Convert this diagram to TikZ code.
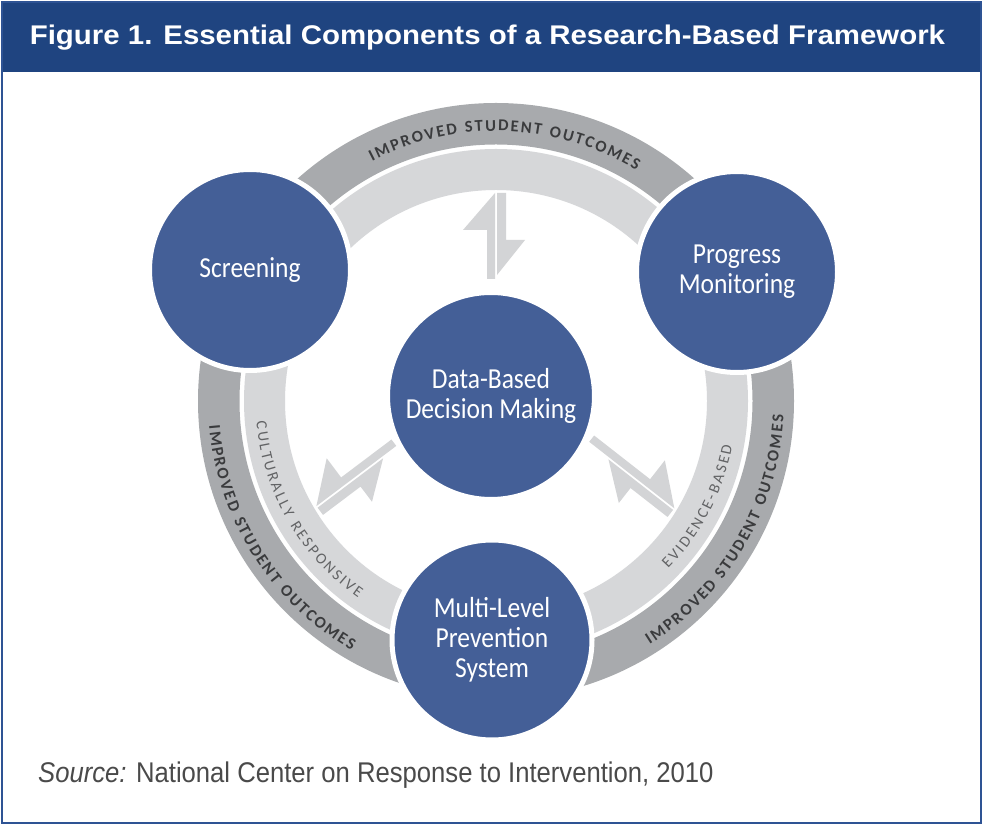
\documentclass[tikz,border=0pt]{standalone}
\usepackage{fontspec}
\newfontfamily\circfam[FakeStretch=0.88]{Carlito}
\newfontfamily\titlefam[FakeStretch=1.09]{Liberation Sans}
\newfontfamily\srcfam[FakeStretch=0.9]{Liberation Sans}
\font\outerRaw="Carlito/B" at 16.5pt
\font\innerRaw="Carlito" at 15.5pt
\definecolor{hdr}{HTML}{1F4480}
\definecolor{framec}{HTML}{2E5394}
\definecolor{circ}{HTML}{445F97}
\definecolor{band}{HTML}{A8AAAD}
\definecolor{lband}{HTML}{D6D7D9}
\definecolor{arr}{HTML}{D3D4D6}
\definecolor{otext}{HTML}{3A3B3D}
\definecolor{ltext}{HTML}{626365}
\definecolor{srcc}{HTML}{4A4A4A}
\newbox\atBox
% #1 baseline radius, #2 mid angle, #3 dir (1 ccw / -1 cw), #4 tracking, #5 font, #6 colour, #7 chars
\newcommand\ArcText[7]{%
  \xdef\atTotal{0}%
  \foreach \atC in {#7}{%
    \setbox\atBox=\hbox{#5\atC}%
    \pgfmathsetmacro\atTmp{\atTotal+\the\wd\atBox+#4}%
    \xdef\atTotal{\atTmp}%
  }%
  \pgfmathsetmacro\atTmp{\atTotal-#4}%
  \xdef\atTotal{\atTmp}%
  \xdef\atPos{0}%
  \foreach \atC in {#7}{%
    \setbox\atBox=\hbox{#5\atC}%
    \pgfmathsetmacro\atS{\atPos+0.5*\the\wd\atBox}%
    \pgfmathsetmacro\atAng{#2+(#3)*(\atS-0.5*\atTotal)/(#1)*57.29578}%
    \pgfmathsetmacro\atRot{\atAng+(#3)*90}%
    \path (RC) ++(\atAng:#1) node[anchor=base,inner sep=0pt,outer sep=0pt,rotate=\atRot,text=#6,font=#5] {\atC};
    \pgfmathsetmacro\atTmp{\atPos+\the\wd\atBox+#4}%
    \xdef\atPos{\atTmp}%
  }%
}
\newcommand\DArrow[1]{%
  \fill[arr] (0,1) -- (-37,33) -- (-37,9) -- (-#1,9) -- (-#1,1) -- cycle;
  \fill[arr] (0,-1) -- (0,-10) -- (-47,-10) -- (-47,-29) -- (-82,-1) -- cycle;
}
\tikzset{comp/.style={circle, fill=circ, draw=white, line width=5pt, text=white, align=center,
  font=\circfam\fontsize{29}{30}\selectfont, inner sep=0pt}}
\begin{document}
\begin{tikzpicture}[x=1pt,y=1pt]
\useasboundingbox (0,0) rectangle (983,825);
\fill[white] (0,0) rectangle (983,825);
\fill[hdr] (2,753) rectangle (981,823);
\draw[framec, line width=1.6pt] (2,2) rectangle (981,823);
\node[anchor=base, text=white, font=\titlefam\bfseries\fontsize{27}{27}\selectfont, inner sep=0pt] (title) at (487.5,780) {Figure 1. Essential Components of a Research-Based Framework};
\coordinate (RC) at (496,424);
\draw[band, line width=41.5pt] (RC) circle[radius=277.25];
\draw[lband, line width=41pt] (RC) circle[radius=231.5];
\begin{scope}[shift={(496,632)}, rotate=90] \DArrow{86} \end{scope}
\begin{scope}[shift={(317,318.1)}, rotate=217, yscale=-1] \DArrow{100} \end{scope}
\begin{scope}[shift={(673.7,315.9)}, rotate=322] \DArrow{108} \end{scope}
\ArcText{270}{88}{-1}{2.0}{\outerRaw}{otext}{I,M,P,R,O,V,E,D,~,S,T,U,D,E,N,T,~,O,U,T,C,O,M,E,S}
\ArcText{288}{212.4}{1}{2.0}{\outerRaw}{otext}{I,M,P,R,O,V,E,D,~,S,T,U,D,E,N,T,~,O,U,T,C,O,M,E,S}
\ArcText{288}{329.7}{1}{2.0}{\outerRaw}{otext}{I,M,P,R,O,V,E,D,~,S,T,U,D,E,N,T,~,O,U,T,C,O,M,E,S}
\ArcText{240.5}{210}{1}{2.4}{\innerRaw}{ltext}{C,U,L,T,U,R,A,L,L,Y,~,R,E,S,P,O,N,S,I,V,E}
\ArcText{240.5}{332.5}{1}{2.4}{\innerRaw}{ltext}{E,V,I,D,E,N,C,E,-,B,A,S,E,D}
\node[comp, minimum size=201pt] (scr) at (250,555) {Screening};
\node[comp, minimum size=201pt] (prog) at (737,553) {Progress\\Monitoring};
\node[comp, minimum size=207pt] (data) at (491,429) {Data-Based\\Decision Making};
\node[comp, minimum size=200pt] (multi) at (492,185) {Multi-Level\\Prevention\\System};
\node[anchor=base west, inner sep=0pt, text=srcc, font=\srcfam\fontsize{28.5}{28.5}\selectfont] (src) at (38,42) {\textit{Source:} National Center on Response to Intervention, 2010};
\end{tikzpicture}
\end{document}
